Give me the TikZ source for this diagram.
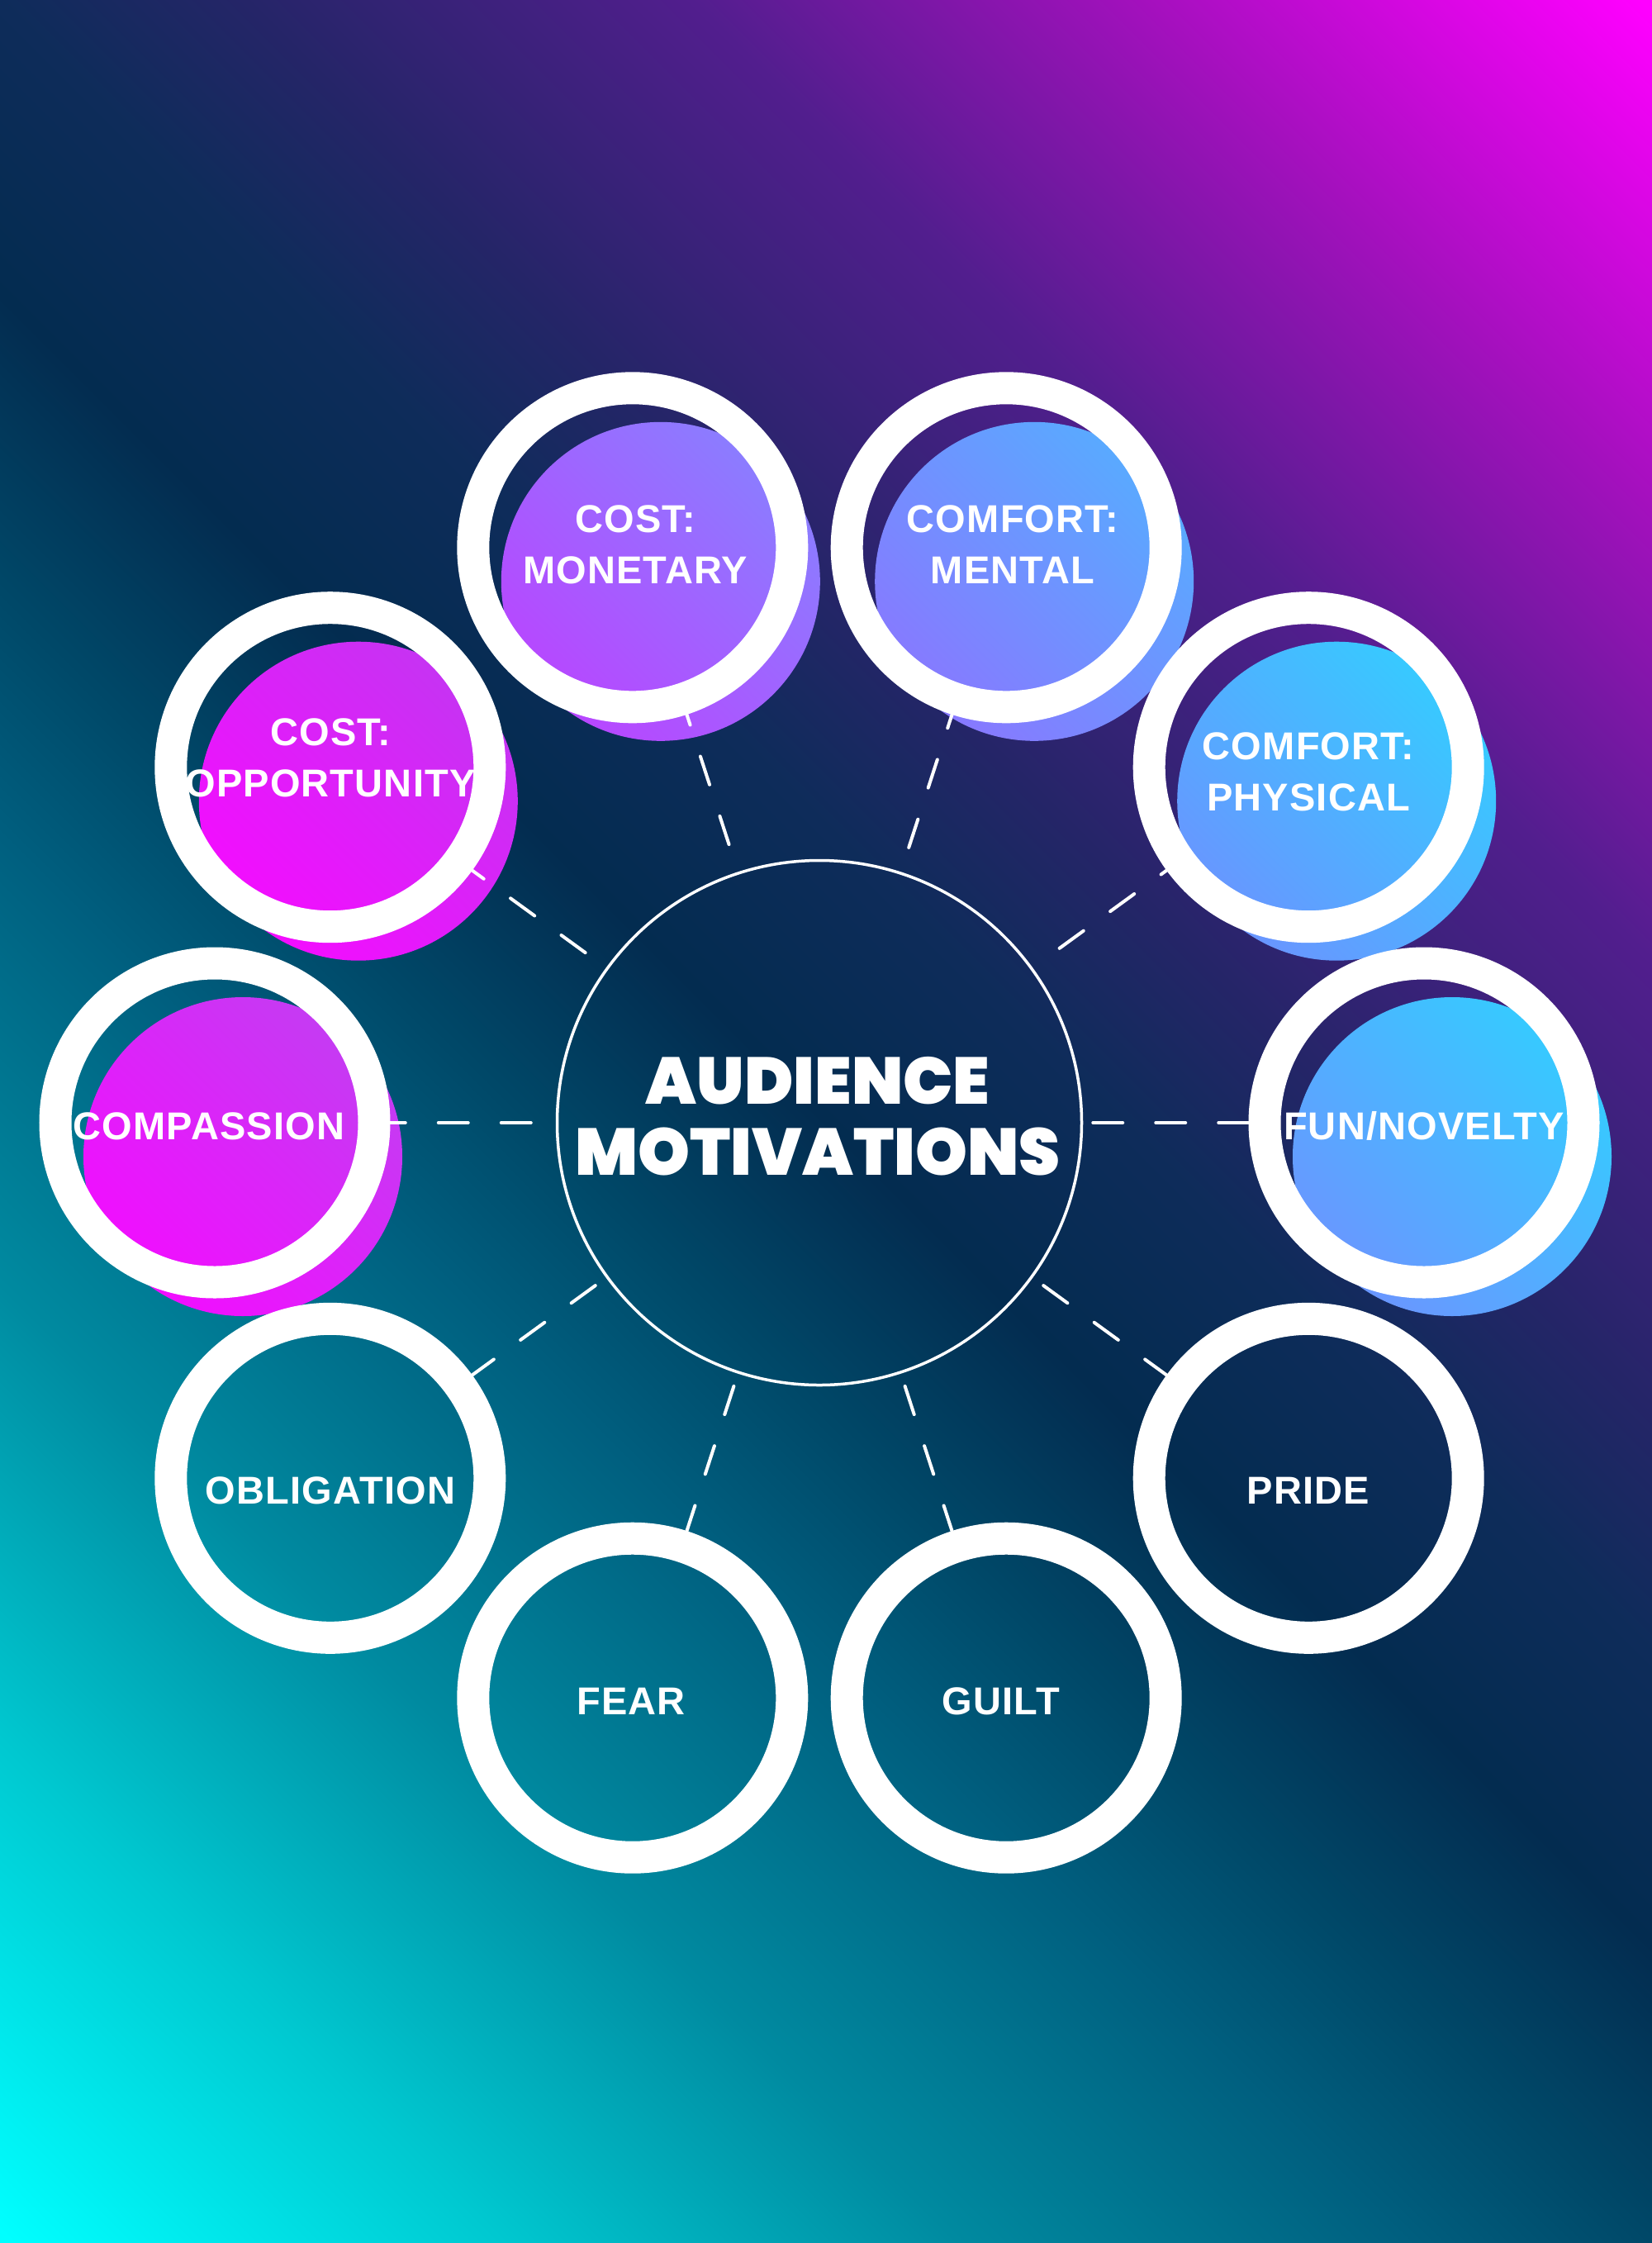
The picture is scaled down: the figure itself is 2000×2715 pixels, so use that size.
\documentclass[tikz,border=0pt]{standalone}
\usepackage{fontspec}
\IfFontExistsTF{Poppins Black}{\newfontfamily\titlefont{Poppins Black}}{\newfontfamily\titlefont{Poppins}[UprightFont=* Bold]}
\newfontfamily\labelfont{Liberation Sans}[UprightFont=* Bold, LetterSpace=2.5]
\definecolor{bgc0}{RGB}{0,255,255}
\definecolor{bgc1}{RGB}{0,200,208}
\definecolor{bgc2}{RGB}{0,138,160}
\definecolor{bgc3}{RGB}{0,95,127}
\definecolor{bgc4}{RGB}{0,72,104}
\definecolor{bgc5}{RGB}{3,44,80}
\definecolor{bgc6}{RGB}{14,44,90}
\definecolor{bgc7}{RGB}{37,37,104}
\definecolor{bgc8}{RGB}{82,30,142}
\definecolor{bgc9}{RGB}{165,16,190}
\definecolor{bgc10}{RGB}{255,0,255}
\pgfdeclarehorizontalshading{bggrad}{100bp}{color(0bp)=(bgc0); color(25bp)=(bgc0); color(31.36bp)=(bgc1); color(37.25bp)=(bgc2); color(43.03bp)=(bgc3); color(46.2bp)=(bgc4); color(50bp)=(bgc5); color(53.8bp)=(bgc6); color(56.97bp)=(bgc7); color(62.75bp)=(bgc8); color(68.64bp)=(bgc9); color(75bp)=(bgc10); color(100bp)=(bgc10)}
\definecolor{oppA}{HTML}{F40CFF}\definecolor{oppB}{HTML}{C534F2}
\definecolor{comA}{HTML}{F20DFF}\definecolor{comB}{HTML}{C43CF2}
\definecolor{monA}{HTML}{B846FF}\definecolor{monB}{HTML}{8A7EFF}
\definecolor{menA}{HTML}{8878FF}\definecolor{menB}{HTML}{58ABFF}
\definecolor{phyA}{HTML}{6995FF}\definecolor{phyB}{HTML}{36CBFF}
\definecolor{funA}{HTML}{6A96FF}\definecolor{funB}{HTML}{35CBFF}
\tikzset{
  ringc/.style={circle, draw=white, line width=39pt, minimum size=386pt, inner sep=0pt},
  hub/.style={circle, draw=white, line width=3.5pt, minimum size=635pt, inner sep=0pt},
  lbl/.style={text=white, font=\labelfont\fontsize{47}{62}\selectfont, align=center, inner sep=0pt},
  ttl/.style={text=white, font=\titlefont\fontsize{80}{86}\selectfont, align=center, inner sep=0pt},
  dashline/.style={white, line width=4pt, line cap=round, dash pattern=on 36pt off 40pt},
  disk/.style 2 args={bottom color=#1, top color=#2, shading angle=-45},
}
\begin{document}
\begin{tikzpicture}[x=1pt, y=-1pt]
\useasboundingbox (0,0) rectangle (2000,2715);
\begin{scope}
  \clip (0,0) rectangle (2000,2715);
  \shade[shading=bggrad, shading angle=45] (-667,-309.5) rectangle (2667,3024.5);
\end{scope}
% offset coloured disks
\shade[disk={funA}{funB}] (1758,1400) circle (193);
\shade[disk={phyA}{phyB}] (1618.2,969.7) circle (193);
\shade[disk={menA}{menB}] (1252.2,703.8) circle (193);
\shade[disk={monA}{monB}] (799.8,703.8) circle (193);
\shade[disk={oppA}{oppB}] (433.8,969.7) circle (193);
\shade[disk={comA}{comB}] (294,1400) circle (193);
% hub and rings
\node[hub] (hub) at (992,1359) {};
\node[ringc, draw=none] (r0) at (1724,1359) {};
\node[ringc, draw=none] (r36) at (1584.2,928.7) {};
\node[ringc, draw=none] (r72) at (1218.2,662.8) {};
\node[ringc, draw=none] (r108) at (765.8,662.8) {};
\node[ringc, draw=none] (r144) at (399.8,928.7) {};
\node[ringc, draw=none] (r180) at (260,1359) {};
\node[ringc, draw=none] (r216) at (399.8,1789.3) {};
\node[ringc, draw=none] (r252) at (765.8,2055.2) {};
\node[ringc, draw=none] (r288) at (1218.2,2055.2) {};
\node[ringc, draw=none] (r324) at (1584.2,1789.3) {};
% dashed connectors
\draw[dashline, dash phase=64pt] (hub.0) -- (r0.180);
\draw[dashline, dash phase=36pt] (hub.36) -- (r36.216);
\draw[dashline, dash phase=45pt] (hub.72) -- (r72.252);
\draw[dashline, dash phase=41pt] (hub.108) -- (r108.288);
\draw[dashline, dash phase=45pt] (hub.144) -- (r144.324);
\draw[dashline, dash phase=46pt] (hub.180) -- (r180.0);
\draw[dashline, dash phase=60pt] (hub.216) -- (r216.36);
\draw[dashline, dash phase=60pt] (hub.252) -- (r252.72);
\draw[dashline, dash phase=60pt] (hub.288) -- (r288.108);
\draw[dashline, dash phase=60pt] (hub.324) -- (r324.144);
% white rings on top
\foreach \r in {r0,r36,r72,r108,r144,r180,r216,r252,r288,r324}
  \draw[white, line width=39pt] (\r.center) circle (193);
% labels
\node[ttl] (title) at (990,1351) {AUDIENCE\\MOTIVATIONS};
\node[lbl] (t0) at (1724,1363) {FUN/NOVELTY};
\node[lbl] (t36) at (1584,934) {COMFORT:\\PHYSICAL};
\node[lbl] (t72) at (1226,659) {COMFORT:\\MENTAL};
\node[lbl] (t108) at (769,659) {COST:\\MONETARY};
\node[lbl] (t144) at (400,917) {COST:\\OPPORTUNITY};
\node[lbl] (t180) at (253,1363) {COMPASSION};
\node[lbl] (t216) at (400,1804) {OBLIGATION};
\node[lbl] (t252) at (764,2059) {FEAR};
\node[lbl] (t288) at (1212,2059) {GUILT};
\node[lbl] (t324) at (1584,1804) {PRIDE};
\end{tikzpicture}
\end{document}
